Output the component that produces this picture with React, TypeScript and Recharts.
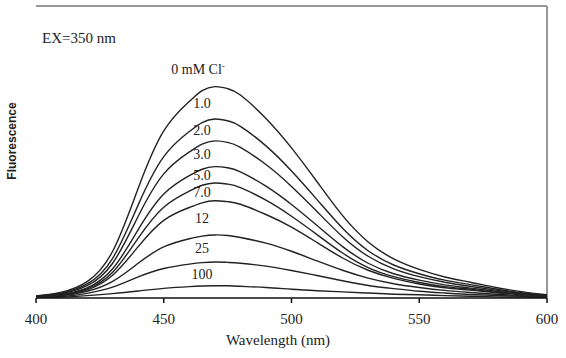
import React from 'react';
import { LineChart, Line, XAxis, YAxis, ReferenceLine, ReferenceDot, Customized } from 'recharts';

const wavelengths = [400, 410, 420, 430, 440, 450, 460, 465, 470, 475, 480, 490, 500, 510, 520, 530, 540, 550, 560, 570, 580, 590, 600];

const cl0 = [0.7, 2.0, 5.6, 16.0, 37.6, 57.2, 67.3, 71.0, 72.4, 71.7, 69.5, 61.5, 51.4, 39.8, 28.2, 19.2, 13.4, 9.8, 7.2, 5.4, 3.6, 2.2, 1.1];
const cl1 = [0.6, 1.7, 4.8, 13.6, 31.9, 48.4, 57.0, 60.1, 61.3, 60.7, 58.8, 52.1, 43.5, 33.7, 23.9, 16.2, 11.3, 8.3, 6.1, 4.6, 3.1, 1.8, 0.9];
const cl2 = [0.5, 1.5, 4.2, 11.9, 28.0, 42.5, 50.0, 52.7, 53.8, 53.3, 51.6, 45.7, 38.2, 29.6, 21.0, 14.3, 10.0, 7.3, 5.4, 4.0, 2.7, 1.6, 0.8];
const cl3 = [0.5, 1.3, 3.5, 10.0, 23.4, 35.6, 41.9, 44.1, 45.0, 44.6, 43.2, 38.3, 32.0, 24.8, 17.6, 11.9, 8.3, 6.1, 4.5, 3.4, 2.3, 1.4, 0.7];
const cl5 = [0.4, 1.1, 3.1, 8.8, 20.5, 31.1, 36.6, 38.6, 39.4, 39.0, 37.8, 33.5, 28.0, 21.7, 15.4, 10.4, 7.3, 5.3, 3.9, 3.0, 2.0, 1.2, 0.6];
const cl7 = [0.3, 1.0, 2.8, 7.8, 17.6, 26.6, 31.0, 32.6, 33.3, 33.0, 32.1, 28.6, 24.3, 19.0, 13.7, 9.5, 6.7, 4.8, 3.5, 2.7, 1.8, 1.2, 0.6];
const cl12 = [0.2, 0.8, 2.3, 5.7, 11.9, 17.5, 20.3, 21.2, 21.6, 21.4, 20.7, 18.8, 16.0, 12.7, 9.5, 6.8, 4.9, 3.6, 2.6, 1.9, 1.3, 0.8, 0.4];
const cl25 = [0.1, 0.5, 1.6, 3.7, 7.2, 10.1, 11.6, 12.1, 12.35, 12.2, 11.9, 10.9, 9.4, 7.7, 5.9, 4.3, 3.2, 2.3, 1.7, 1.2, 0.9, 0.6, 0.3];
const cl100 = [0.1, 0.3, 0.8, 1.5, 2.4, 3.3, 3.9, 4.1, 4.2, 4.2, 4.0, 3.6, 3.0, 2.5, 2.1, 1.7, 1.3, 1.1, 0.8, 0.6, 0.4, 0.3, 0.2];

const seriesValues = [cl0, cl1, cl2, cl3, cl5, cl7, cl12, cl25, cl100];
const seriesLabels = ['0 mM Cl', '1.0', '2.0', '3.0', '5.0', '7.0', '12', '25', '100'];
const xTicks = [400, 450, 500, 550, 600];
const labelWavelength = 465;

const data = wavelengths.map((w, i) => {
  const row: Record<string, number> = { w };
  seriesValues.forEach((s, k) => {
    row['s' + k] = s[i];
  });
  return row;
});

const peaks = seriesValues.map((s) => Math.max(...s));
const labelYs = peaks.map((p, i) => (i === 0 ? p + 6 : (peaks[i - 1] + p) / 2));

const serif = 'Liberation Serif, Times New Roman, serif';

const makeLabel = (text: string, first: boolean) => (props: any) => {
  const vb = props.viewBox || {};
  const cx = (vb.x ?? 0) + (vb.width ?? 0) / 2;
  const cy = (vb.y ?? 0) + (vb.height ?? 0) / 2;
  return (
    <text x={first ? cx - 4 : cx} y={cy} dy="0.35em" textAnchor="middle" fontFamily={serif} fontSize={14} fill="#222">
      {text}
      {first ? (
        <tspan fontSize={9} dy="-0.6em">-</tspan>
      ) : null}
    </text>
  );
};

const Extras = () => (
  <g>
    <text x={42} y={43} fontFamily={serif} fontSize={15} fill="#222">EX=350 nm</text>
    <text x={12} y={141} transform="rotate(-90 12 141)" textAnchor="middle" dominantBaseline="central" fontFamily="Liberation Sans, Arial, sans-serif" fontSize={12} fontWeight="bold" fill="#222">Fluorescence</text>
    <text x={278} y={345} textAnchor="middle" fontFamily={serif} fontSize={15} fill="#222">Wavelength (nm)</text>
  </g>
);

export default function App() {
  return (
    <div style={{ position: 'absolute', left: 0, top: 0, width: 566, height: 358, background: '#fff' }}>
      <LineChart width={566} height={358} data={data} margin={{ top: 6, right: 19, bottom: 0, left: 36 }}>
        <XAxis
          dataKey="w"
          type="number"
          domain={[400, 600]}
          ticks={xTicks}
          allowDataOverflow
          stroke="#111"
          strokeWidth={1.5}
          tickSize={5}
          tickMargin={10}
          tick={{ fontFamily: serif, fontSize: 15, fill: '#222' }}
          height={60}
        />
        <YAxis type="number" domain={[0, 100]} width={0} tick={false} tickLine={false} stroke="#111" strokeWidth={1.5} allowDataOverflow />
        <ReferenceLine y={100} stroke="#999" strokeWidth={2} ifOverflow="visible" />
        <ReferenceLine x={600} stroke="#999" strokeWidth={2} ifOverflow="visible" />
        {seriesValues.map((_, k) => (
          <Line
            key={k}
            dataKey={'s' + k}
            type="natural"
            stroke="#222"
            strokeWidth={1.4}
            dot={false}
            isAnimationActive={false}
          />
        ))}
        {seriesLabels.map((lab, k) => (
          <ReferenceDot
            key={'l' + k}
            x={labelWavelength}
            y={labelYs[k]}
            r={0}
            fill="none"
            stroke="none"
            ifOverflow="visible"
            label={makeLabel(lab, k === 0)}
          />
        ))}
        <Customized component={Extras} />
      </LineChart>
    </div>
  );
}
